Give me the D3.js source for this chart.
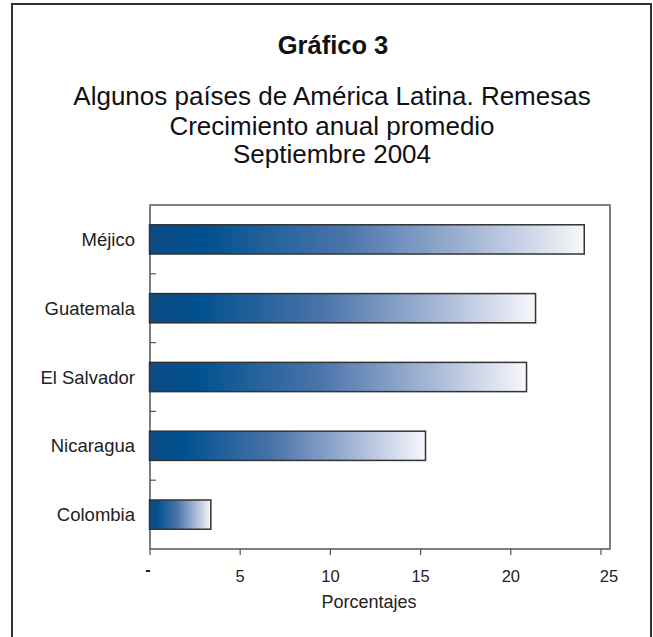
<!DOCTYPE html>
<html>
<head>
<meta charset="utf-8">
<script src="https://cdn.jsdelivr.net/npm/d3@7"></script>
<style>
  html, body { margin: 0; padding: 0; background: #fff; }
  svg { display: block; font-family: "Liberation Sans", Arial, sans-serif; }
</style>
</head>
<body>
<svg id="chart" width="653" height="637"></svg>
<script>
const categories = ["Méjico", "Guatemala", "El Salvador", "Nicaragua", "Colombia"];
const values = [24.1, 21.4, 20.9, 15.3, 3.4];
const xTickValues = [0, 5, 10, 15, 20, 25];
const xTickLabels = ["-", "5", "10", "15", "20", "25"];
const titleText = "Gráfico 3";
const subtitleLines = ["Algunos países de América Latina. Remesas", "Crecimiento anual promedio", "Septiembre 2004"];
const xAxisTitle = "Porcentajes";

const svg = d3.select("#chart");

// outer border (open at bottom)
svg.append("path")
  .attr("d", "M12,640 L12,4 L651,4 L651,640")
  .attr("fill", "none").attr("stroke", "#333").attr("stroke-width", 2);

// titles
svg.append("text").attr("x", 333).attr("y", 54).attr("text-anchor", "middle")
  .attr("font-size", 25.5).attr("font-weight", "bold").attr("fill", "#111").text(titleText);
const subY = [105, 134.5, 163];
subtitleLines.forEach((t, i) => {
  svg.append("text").attr("x", 332).attr("y", subY[i]).attr("text-anchor", "middle")
    .attr("font-size", 26).attr("fill", "#111").text(t);
});

const frame = {left: 150, right: 610, top: 205, bottom: 549};
const x = d3.scaleLinear().domain([0, 25]).range([149.5, 600.5]);
const y = d3.scaleBand().domain(categories).range([frame.top, frame.bottom]).paddingInner(0.575).paddingOuter(0.2875);

// gradient
const defs = svg.append("defs");
const grad = defs.append("linearGradient").attr("id", "barGrad")
  .attr("x1", "0%").attr("x2", "100%").attr("y1", "0%").attr("y2", "0%");
[[0, "#0c4b83"], [0.12, "#00508e"], [0.45, "#4a74aa"], [0.75, "#a7b8d6"], [1, "#f7f7fb"]]
  .forEach(([o, c]) => grad.append("stop").attr("offset", o).attr("stop-color", c));

// frame
svg.append("rect").attr("x", frame.left).attr("y", frame.top)
  .attr("width", frame.right - frame.left).attr("height", frame.bottom - frame.top)
  .attr("fill", "none").attr("stroke", "#555").attr("stroke-width", 1.5);

// bars
svg.append("g").selectAll("rect").data(categories).join("rect")
  .attr("x", x(0))
  .attr("y", d => y(d))
  .attr("width", (d, i) => x(values[i]) - x(0))
  .attr("height", y.bandwidth())
  .attr("fill", "url(#barGrad)")
  .attr("stroke", "#333").attr("stroke-width", 1.5);

// y category labels
svg.append("g").selectAll("text").data(categories).join("text")
  .attr("x", 135)
  .attr("y", d => y(d) + y.bandwidth() / 2 + 6.5)
  .attr("text-anchor", "end")
  .attr("font-size", 18.5).attr("fill", "#222")
  .text(d => d);

// y inner ticks at band boundaries
const step = y.step();
const boundaries = categories.slice(1).map(c => y(c) - (step - y.bandwidth()) / 2);
svg.append("g").selectAll("line").data(boundaries).join("line")
  .attr("x1", frame.left).attr("x2", frame.left + 6)
  .attr("y1", d => d).attr("y2", d => d)
  .attr("stroke", "#555").attr("stroke-width", 1.2);

// x axis
const xAxis = d3.axisBottom(x).tickValues(xTickValues).tickSize(6)
  .tickFormat((d, i) => xTickLabels[i]);
const gx = svg.append("g").attr("transform", `translate(0,${frame.bottom})`).call(xAxis);
gx.select(".domain").remove();
gx.selectAll(".tick line").attr("stroke", "#555").attr("stroke-width", 1.2);
gx.selectAll(".tick text").attr("font-size", 16.5).attr("fill", "#222")
  .attr("font-family", "'Liberation Sans', Arial, sans-serif").attr("dy", 0).attr("y", 33)
  .attr("dx", (d, i) => i === 0 ? -2 : (i === 5 ? 8 : 0))
  .filter((d, i) => i === 0).attr("font-weight", "bold").attr("y", 26);

svg.append("text").attr("x", 369).attr("y", 608).attr("text-anchor", "middle")
  .attr("font-size", 18).attr("fill", "#222").text(xAxisTitle);
</script>
</body>
</html>
